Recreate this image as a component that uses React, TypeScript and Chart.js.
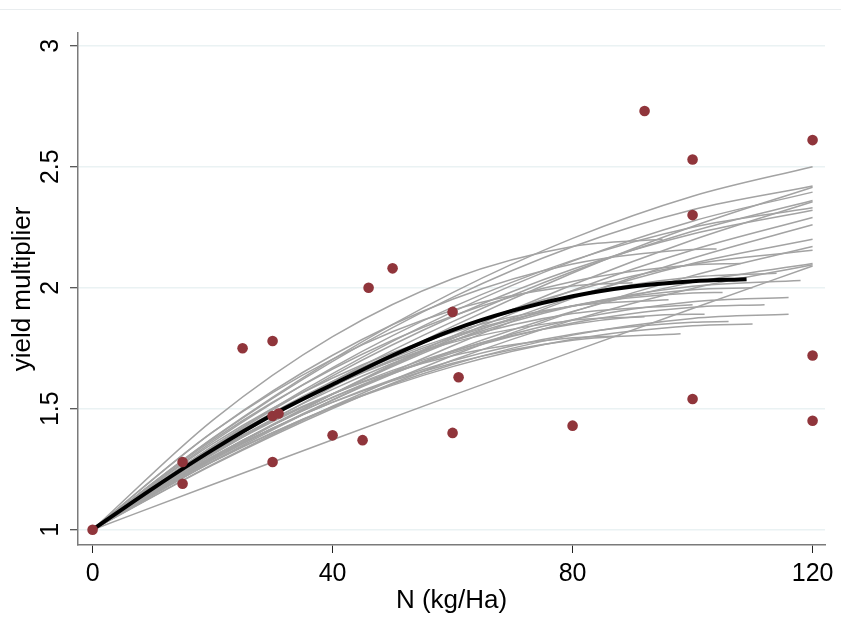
import { useEffect, useRef } from 'react';
import { Chart, registerables } from 'chart.js';

Chart.register(...registerables);

// Axis ticks
const xTicks = [0, 40, 80, 120];
const yTicks = [1, 1.5, 2, 2.5, 3];

// Observed data points (N applied, yield multiplier)
const obsN = [0, 15, 15, 25, 30, 30, 31, 30, 40, 45, 46, 50, 60, 60, 61, 80, 92, 100, 100, 100, 120, 120, 120];
const obsYield = [1.0, 1.28, 1.19, 1.75, 1.78, 1.47, 1.48, 1.28, 1.39, 1.37, 2.0, 2.08, 1.9, 1.4, 1.63, 1.43, 2.73, 2.53, 2.3, 1.54, 2.61, 1.72, 1.45];

// Mean fitted response (black)
const meanCurve: [number, number][] = [
  [0, 1.0], [10, 1.17], [20, 1.33], [30, 1.475], [40, 1.6], [50, 1.72],
  [60, 1.825], [70, 1.905], [80, 1.965], [90, 2.005], [100, 2.027], [109, 2.035],
];

// Individual fitted responses (grey)
const bootCurves: [number, number][][] = [
  [[0, 1], [20, 1.378], [40, 1.704], [60, 1.98], [80, 2.204], [100, 2.378], [120, 2.5]],
  [[0, 1], [20, 1.376], [40, 1.696], [60, 1.96], [80, 2.169], [100, 2.322], [120, 2.42]],
  [[0, 1], [20, 1.31], [40, 1.59], [60, 1.84], [80, 2.061], [100, 2.253], [120, 2.415]],
  [[0, 1], [20, 1.345], [40, 1.645], [60, 1.9], [80, 2.11], [100, 2.275], [120, 2.395]],
  [[0, 1], [20, 1.294], [40, 1.561], [60, 1.8], [80, 2.012], [100, 2.197], [120, 2.355]],
  [[0, 1], [20, 1.342], [40, 1.636], [60, 1.88], [80, 2.076], [100, 2.222], [120, 2.32]],
  [[0, 1], [20, 1.282], [40, 1.536], [60, 1.76], [80, 1.956], [100, 2.122], [120, 2.26]],
  [[0, 1], [20, 1.3], [40, 1.56], [60, 1.78], [80, 1.96], [100, 2.1], [120, 2.2]],
  [[0, 1], [20, 1.27], [40, 1.51], [60, 1.72], [80, 1.9], [100, 2.05], [120, 2.17]],
  [[0, 1], [20, 1.327], [40, 1.601], [60, 1.82], [80, 1.986], [100, 2.097], [120, 2.155]],
  [[0, 1], [20, 1.267], [40, 1.501], [60, 1.7], [80, 1.866], [100, 1.997], [120, 2.095]],
  [[0, 1], [20, 1.187], [40, 1.372], [60, 1.555], [80, 1.736], [100, 1.914], [120, 2.09]],
  [[0, 1], [20, 1.327], [40, 1.613], [60, 1.86], [80, 2.067], [100, 2.233], [120, 2.36]],
  [[0, 1], [20, 1.289], [40, 1.536], [60, 1.74], [80, 1.902], [100, 2.022], [120, 2.1]],
  [[0, 1], [20, 1.363], [40, 1.67], [60, 1.92], [80, 2.113], [100, 2.25], [120, 2.33]],
  [[0, 1], [20, 1.296], [40, 1.559], [60, 1.79], [80, 1.989], [100, 2.156], [120, 2.29]],
  [[0, 1], [20, 1.32], [40, 1.58], [60, 1.781], [80, 1.923], [100, 2.006], [118, 2.03]],
  [[0, 1], [20, 1.302], [40, 1.548], [60, 1.736], [80, 1.868], [100, 1.942], [116, 1.96]],
  [[0, 1], [20, 1.28], [40, 1.508], [60, 1.683], [80, 1.804], [100, 1.873], [116, 1.89]],
  [[0, 1], [20, 1.303], [40, 1.546], [60, 1.73], [80, 1.854], [100, 1.919], [112, 1.93]],
  [[0, 1], [20, 1.338], [40, 1.604], [60, 1.8], [80, 1.924], [100, 1.978], [105, 1.98]],
  [[0, 1], [20, 1.315], [40, 1.561], [60, 1.739], [80, 1.849], [100, 1.89], [102, 1.89]],
  [[0, 1], [20, 1.297], [40, 1.526], [60, 1.688], [80, 1.783], [98, 1.81]],
  [[0, 1], [20, 1.452], [40, 1.798], [60, 2.037], [80, 2.17], [95, 2.2]],
  [[0, 1], [20, 1.403], [40, 1.705], [60, 1.907], [80, 2.007], [90, 2.02]],
  [[0, 1], [20, 1.37], [40, 1.664], [60, 1.883], [80, 2.026], [100, 2.094], [108, 2.1]],
  [[0, 1], [20, 1.322], [40, 1.562], [60, 1.719], [80, 1.793], [88, 1.8]],
  [[0, 1], [20, 1.281], [40, 1.506], [60, 1.674], [80, 1.787], [100, 1.843], [110, 1.85]],
  [[0, 1], [20, 1.335], [40, 1.595], [60, 1.781], [80, 1.893], [100, 1.93]],
  [[0, 1], [20, 1.294], [40, 1.527], [60, 1.698], [80, 1.808], [100, 1.857], [106, 1.86]],
  [[0, 1], [20, 1.339], [40, 1.613], [60, 1.822], [80, 1.966], [100, 2.044], [114, 2.06]],
  [[0, 1], [20, 1.355], [40, 1.627], [60, 1.816], [80, 1.924], [96, 1.95]],
  [[0, 1], [20, 1.403], [40, 1.721], [60, 1.952], [80, 2.098], [100, 2.158], [104, 2.16]],
  [[0, 1], [20, 1.341], [40, 1.599], [60, 1.774], [80, 1.865], [92, 1.88]],
  [[0, 1], [20, 1.331], [40, 1.595], [60, 1.793], [80, 1.926], [100, 1.992], [110, 2.0]],
];

const FONT = "'Liberation Sans', Arial, sans-serif";

export default function App() {
  const ref = useRef<HTMLCanvasElement | null>(null);

  useEffect(() => {
    if (!ref.current) return;
    const toXY = (c: [number, number][]) => c.map(([x, y]) => ({ x, y }));
    const chart = new Chart(ref.current, {
      type: 'scatter',
      data: {
        datasets: [
          {
            data: obsN.map((x, i) => ({ x, y: obsYield[i] })),
            showLine: false,
            pointRadius: 5.3,
            pointBackgroundColor: '#90353b',
            pointBorderColor: '#90353b',
            pointBorderWidth: 0,
            order: 0,
          } as any,
          {
            data: toXY(meanCurve),
            showLine: true,
            borderColor: '#000000',
            borderWidth: 4,
            pointRadius: 0,
            cubicInterpolationMode: 'monotone',
            order: 1,
          } as any,
          ...bootCurves.map(
            (c) =>
              ({
                data: toXY(c),
                showLine: true,
                borderColor: '#a3a3a3',
                borderWidth: 1.5,
                pointRadius: 0,
                cubicInterpolationMode: 'monotone',
                order: 2,
              }) as any,
          ),
        ],
      },
      options: {
        animation: false,
        responsive: false,
        devicePixelRatio: 1,
        events: [],
        layout: { padding: { top: 33, right: 16, bottom: 0, left: 0 } },
        plugins: { legend: { display: false }, tooltip: { enabled: false } },
        scales: {
          x: {
            type: 'linear',
            min: -2.43,
            max: 122.07,
            afterBuildTicks: (s: any) => {
              s.ticks = xTicks.map((v) => ({ value: v }));
            },
            afterFit: (s: any) => {
              s.height = 89;
            },
            grid: { drawOnChartArea: false, drawTicks: true, tickLength: 8, tickColor: '#222222', tickWidth: 1 },
            border: { display: true, color: '#7a7a7a', width: 1.5 },
            ticks: {
              font: { family: FONT, size: 25 },
              color: '#000000',
              padding: 6,
              maxRotation: 0,
              autoSkip: false,
              callback: (v: any) => String(v),
            },
            title: {
              display: true,
              text: 'N (kg/Ha)',
              font: { family: FONT, size: 26 },
              color: '#000000',
              padding: { top: 0, bottom: 18 },
            },
          },
          y: {
            type: 'linear',
            min: 0.9368,
            max: 3.0525,
            afterBuildTicks: (s: any) => {
              s.ticks = yTicks.map((v) => ({ value: v }));
            },
            afterFit: (s: any) => {
              s.width = 78;
            },
            grid: {
              drawOnChartArea: true,
              color: '#eaf2f3',
              lineWidth: 1.5,
              drawTicks: true,
              tickLength: 8,
              tickColor: '#222222',
              tickWidth: 1,
            },
            border: { display: true, color: '#7a7a7a', width: 1.5 },
            ticks: {
              font: { family: FONT, size: 25 },
              color: '#000000',
              padding: 2,
              minRotation: 90,
              maxRotation: 90,
              crossAlign: 'center',
              autoSkip: false,
              callback: (v: any) => String(v),
            },
            title: {
              display: true,
              text: 'yield multiplier',
              font: { family: FONT, size: 26 },
              color: '#000000',
              padding: { top: 7, bottom: 0 },
            },
          },
        },
      } as any,
    });
    return () => chart.destroy();
  }, []);

  return (
    <div style={{ position: 'absolute', left: 0, top: 0, width: 841, height: 634, background: '#ffffff' }}>
      <div style={{ position: 'absolute', left: 0, top: 9, width: 841, height: 1, background: '#e9edef' }} />
      <canvas ref={ref} width={841} height={634} style={{ position: 'absolute', left: 0, top: 0, width: 841, height: 634 }} />
    </div>
  );
}
